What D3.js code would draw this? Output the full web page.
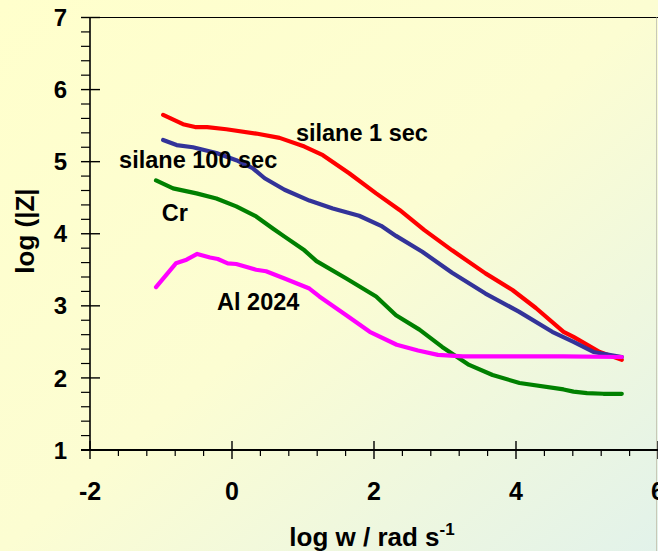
<!DOCTYPE html>
<html><head><meta charset="utf-8">
<script src="https://cdn.jsdelivr.net/npm/d3@7/dist/d3.min.js"></script>
<style>html,body{margin:0;padding:0;overflow:hidden;}svg{display:block;}</style>
</head><body>
<svg id="chart" width="658" height="551"></svg>
<script>
// ---- data ----
const seriesNames = ["silane 1 sec", "silane 100 sec", "Cr", "Al 2024"];
const silane1 = [[-0.97,5.65],[-0.69,5.52],[-0.52,5.48],[-0.35,5.48],[-0.08,5.45],[0.34,5.39],[0.67,5.33],[1.02,5.21],[1.28,5.09],[1.65,4.84],[2.03,4.56],[2.36,4.33],[2.71,4.05],[3.10,3.77],[3.57,3.45],[3.95,3.22],[4.28,2.97],[4.67,2.64],[4.81,2.57],[5.18,2.36],[5.49,2.25]];
const silane100 = [[-0.97,5.30],[-0.78,5.23],[-0.55,5.20],[-0.22,5.12],[0.06,5.02],[0.29,4.91],[0.46,4.77],[0.74,4.61],[1.09,4.46],[1.42,4.35],[1.79,4.25],[2.10,4.11],[2.31,3.97],[2.68,3.75],[3.10,3.46],[3.57,3.17],[4.04,2.92],[4.51,2.64],[4.81,2.50],[5.09,2.36],[5.49,2.29]];
const cr = [[-1.07,4.74],[-0.83,4.63],[-0.50,4.56],[-0.22,4.49],[0.06,4.38],[0.34,4.24],[0.58,4.07],[0.74,3.96],[1.02,3.77],[1.19,3.62],[1.61,3.38],[2.03,3.13],[2.31,2.87],[2.64,2.67],[2.96,2.43],[3.34,2.18],[3.67,2.04],[4.05,1.93],[4.67,1.84],[4.81,1.81],[5.00,1.79],[5.23,1.78],[5.49,1.78]];
const al2024 = [[-1.07,3.26],[-0.79,3.59],[-0.64,3.64],[-0.49,3.72],[-0.31,3.67],[-0.20,3.65],[-0.06,3.59],[0.06,3.58],[0.34,3.50],[0.48,3.48],[0.74,3.38],[1.09,3.24],[1.23,3.13],[1.61,2.87],[1.94,2.64],[2.32,2.46],[2.62,2.38],[2.90,2.32],[3.25,2.30],[4.00,2.30],[4.67,2.30],[5.49,2.29]];
const xTicks = [-2, 0, 2, 4, 6];
const yTicks = [1, 2, 3, 4, 5, 6, 7];
const xTitle = "log w / rad s";
const xTitleSup = "-1";
const yTitle = "log (|Z|";

// ---- layout / style ----
const colors = ["#FF0000", "#333399", "#008000", "#FF00FF"];
const labelPos = [[0.90,5.29],[-1.59,4.91],[-0.99,4.18],[-0.21,2.94]]; // data-space anchors (text baseline start) for series labels
const W = 658, H = 551;
const svg = d3.select("#chart");
const defs = svg.append("defs");
const grad = defs.append("linearGradient").attr("id","bg").attr("x1","0").attr("y1","0").attr("x2","1").attr("y2","1");
grad.append("stop").attr("offset","0").attr("stop-color","#FFFFCC");
grad.append("stop").attr("offset","0.5").attr("stop-color","#FCFDD2");
grad.append("stop").attr("offset","1").attr("stop-color","#E2F2EA");
svg.append("rect").attr("width",W).attr("height",H).attr("fill","url(#bg)");

const x = d3.scaleLinear().domain([-2, 6]).range([90, 658]);
const y = d3.scaleLinear().domain([1, 7]).range([450, 17.5]);
const font = "'Liberation Sans', Arial, sans-serif";

// top frame line and faint right edge
svg.append("line").attr("x1",81).attr("x2",658).attr("y1",y(7)).attr("y2",y(7)).attr("stroke","#000").attr("stroke-width",1.2);
svg.append("line").attr("x1",656.5).attr("x2",656.5).attr("y1",y(7)).attr("y2",H).attr("stroke","#c8c8b8").attr("stroke-width",1);

// y axis
const yAxisG = svg.append("g").attr("transform","translate(90,0)");
yAxisG.append("line").attr("x1",0).attr("x2",0).attr("y1",y(7)).attr("y2",y(1)+1).attr("stroke","#000").attr("stroke-width",1.6);
const yMinor = d3.range(1, 7.001, 0.2).filter(v => Math.abs(v - Math.round(v)) > 0.01);
yAxisG.selectAll(".ymin").data(yMinor).enter().append("line")
  .attr("x1",-9).attr("x2",0).attr("y1",d=>y(d)).attr("y2",d=>y(d)).attr("stroke","#000").attr("stroke-width",1.2);
yAxisG.selectAll(".ymaj").data(yTicks).enter().append("line")
  .attr("x1",-9).attr("x2",10).attr("y1",d=>y(d)).attr("y2",d=>y(d)).attr("stroke","#000").attr("stroke-width",1.4);
yAxisG.selectAll(".ylab").data(yTicks).enter().append("text")
  .attr("x",-23).attr("y",d=>y(d)).attr("dy","0.36em").attr("text-anchor","end")
  .attr("font-family",font).attr("font-weight","bold").attr("font-size",24).text(d=>d);

// x axis
const xAxisG = svg.append("g").attr("transform","translate(0,"+y(1)+")");
xAxisG.append("line").attr("x1",81).attr("x2",658).attr("y1",0).attr("y2",0).attr("stroke","#000").attr("stroke-width",1.8);
const xMinor = d3.range(-2, 6.001, 0.4).filter(v => Math.abs(v/2 - Math.round(v/2)) > 0.01);
xAxisG.selectAll(".xmin").data(xMinor).enter().append("line")
  .attr("x1",d=>x(d)).attr("x2",d=>x(d)).attr("y1",0).attr("y2",6).attr("stroke","#000").attr("stroke-width",1.2);
xAxisG.selectAll(".xmaj").data(xTicks).enter().append("line")
  .attr("x1",d=>x(d)).attr("x2",d=>x(d)).attr("y1",-9).attr("y2",9).attr("stroke","#000").attr("stroke-width",1.4);
xAxisG.selectAll(".xlab").data(xTicks).enter().append("text")
  .attr("x",d=>x(d)).attr("y",50).attr("text-anchor","middle")
  .attr("font-family",font).attr("font-weight","bold").attr("font-size",25).text(d=>d);

// axis titles
const xt = svg.append("text").attr("x",372).attr("y",546).attr("text-anchor","middle")
  .attr("font-family",font).attr("font-weight","bold").attr("font-size",26);
xt.append("tspan").text(xTitle);
xt.append("tspan").attr("dy",-11).attr("font-size",17).text(xTitleSup);
svg.append("text").attr("transform","translate(25,231) rotate(-90)").attr("text-anchor","middle").attr("dy","0.36em")
  .attr("font-family",font).attr("font-weight","bold").attr("font-size",26).text(yTitle);

// lines
const line = d3.line().x(d=>x(d[0])).y(d=>y(d[1])).curve(d3.curveLinear);
const allSeries = [silane1, silane100, cr, al2024];
svg.selectAll(".series").data(allSeries).enter().append("path")
  .attr("d", line).attr("fill","none").attr("stroke",(d,i)=>colors[i]).attr("stroke-width",4.2)
  .attr("stroke-linejoin","round").attr("stroke-linecap","round");

// series labels
svg.selectAll(".slab").data(seriesNames).enter().append("text")
  .attr("x",(d,i)=>x(labelPos[i][0])).attr("y",(d,i)=>y(labelPos[i][1]))
  .attr("font-family",font).attr("font-weight","bold").attr("font-size",23.5).text(d=>d);
</script>
</body></html>
